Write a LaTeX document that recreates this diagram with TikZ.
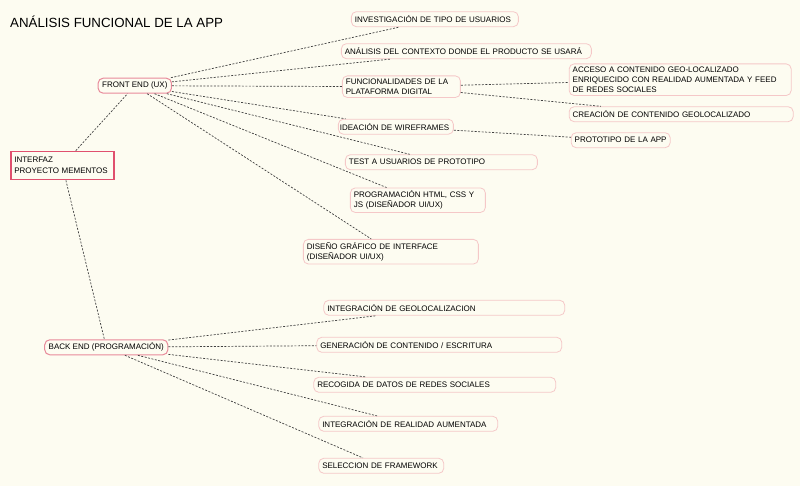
\documentclass[tikz,border=0pt]{standalone}
\usepackage{fontspec}
\setmainfont{Liberation Sans}
\usetikzlibrary{positioning}
\definecolor{bgcol}{HTML}{FDFCF1}
\definecolor{leafline}{HTML}{F5C8C8}
\definecolor{branchline}{HTML}{E88A9A}
\definecolor{rootline}{HTML}{E0506E}
\definecolor{linkcol}{HTML}{404040}
\begin{document}
\begin{tikzpicture}[x=1pt, y=1pt,
		leaf/.style = {draw=leafline, line width=0.8pt, rounded corners=5pt, fill=bgcol, inner xsep=3.5pt, inner ysep=3pt, minimum height=15pt, align=left, font=\fontsize{8}{10}\selectfont},
		branch/.style = {leaf, draw=branchline, line width=1pt, inner xsep=4pt},
		rootnode/.style = {draw=rootline, line width=1.6pt, fill=bgcol, inner xsep=3.5pt, inner ysep=3pt, minimum height=28pt, align=left, font=\fontsize{8}{10.5}\selectfont},
		link/.style = {draw=linkcol, line width=0.7pt, dash pattern=on 2pt off 1.5pt}]
		\fill[bgcol] (0,0) rectangle (800,-486);
		\useasboundingbox (0,0) rectangle (800,-486);
		\node[anchor=west, inner sep=0pt, font=\fontsize{13.3}{15}\selectfont] (title) at (10,-22) {ANÁLISIS FUNCIONAL DE LA APP};
		\node[rootnode, text width=96pt, anchor=west] (root) at (10,-165.5) {INTERFAZ\\PROYECTO MEMENTOS};
		\node[branch] (fe) [above=57pt of root, xshift=72.5pt] {FRONT END (UX)};
		\node[branch] (be) [below=159pt of root, xshift=44pt] {BACK END (PROGRAMACIÓN)};
		% front end
		\node[leaf, text width=160pt] (inv) [right=179pt of fe, yshift=66.5pt] {INVESTIGACIÓN DE TIPO DE USUARIOS};
		\node[leaf, text width=243pt] (ana) [right=169pt of fe, yshift=34.5pt] {ANÁLISIS DEL CONTEXTO DONDE EL PRODUCTO SE USARÁ};
		\node[leaf, text width=111pt] (fun) [right=170pt of fe, yshift=-1pt] {FUNCIONALIDADES DE LA\\PLATAFORMA DIGITAL};
		\node[leaf, text width=112pt, inner xsep=1.5pt] (ide) [right=166pt of fe, yshift=-41pt] {IDEACIÓN DE WIREFRAMES};
		\node[leaf, text width=185pt] (test) [right=173pt of fe, yshift=-76.5pt] {TEST A USUARIOS DE PROTOTIPO};
		\node[leaf, text width=128pt] (html) [right=178pt of fe, yshift=-114.5pt] {PROGRAMACIÓN HTML, CSS Y\\JS (DISEÑADOR UI/UX)};
		\node[leaf, text width=168pt] (dis) [right=131pt of fe, yshift=-166pt] {DISEÑO GRÁFICO DE INTERFACE\\(DISEÑADOR UI/UX)};
		\node[leaf, text width=215pt] (acc) [right=108pt of fun, yshift=7pt] {ACCESO A CONTENIDO GEO-LOCALIZADO\\ENRIQUECIDO CON REALIDAD AUMENTADA Y FEED\\DE REDES SOCIALES};
		\node[leaf, text width=217pt] (cre) [right=108pt of fun, yshift=-27.5pt] {CREACIÓN DE CONTENIDO GEOLOCALIZADO};
		\node[leaf, text width=92pt] (pro) [right=117pt of ide, yshift=-13.5pt] {PROTOTIPO DE LA APP};
		% back end
		\node[leaf, text width=234pt] (geo) [right=155pt of be, yshift=39.5pt] {INTEGRACIÓN DE GEOLOCALIZACION};
		\node[leaf, text width=238pt] (gen) [right=148pt of be, yshift=2.5pt] {GENERACIÓN DE CONTENIDO / ESCRITURA};
		\node[leaf, text width=235pt] (rec) [right=145pt of be, yshift=-37.5pt] {RECOGIDA DE DATOS DE REDES SOCIALES};
		\node[leaf, text width=172pt] (rea) [right=150pt of be, yshift=-76.5pt] {INTEGRACIÓN DE REALIDAD AUMENTADA};
		\node[leaf, text width=118pt] (sel) [right=150pt of be, yshift=-118.5pt] {SELECCION DE FRAMEWORK};
		\draw[link] (root) to (fe);
		\draw[link] (root) to (be);
		\draw[link] (fe) to (inv);
		\draw[link] (fe) to (ana);
		\draw[link] (fe) to (fun);
		\draw[link] (fe) to (ide);
		\draw[link] (fe) to (test);
		\draw[link] (fe) to (html);
		\draw[link] (fe) to (dis);
		\draw[link] (fun) to (acc);
		\draw[link] (fun) to (cre);
		\draw[link] (ide) to (pro);
		\draw[link] (be) to (geo);
		\draw[link] (be) to (gen);
		\draw[link] (be) to (rec);
		\draw[link] (be) to (rea);
		\draw[link] (be) to (sel);

	\end{tikzpicture}
\end{document}
